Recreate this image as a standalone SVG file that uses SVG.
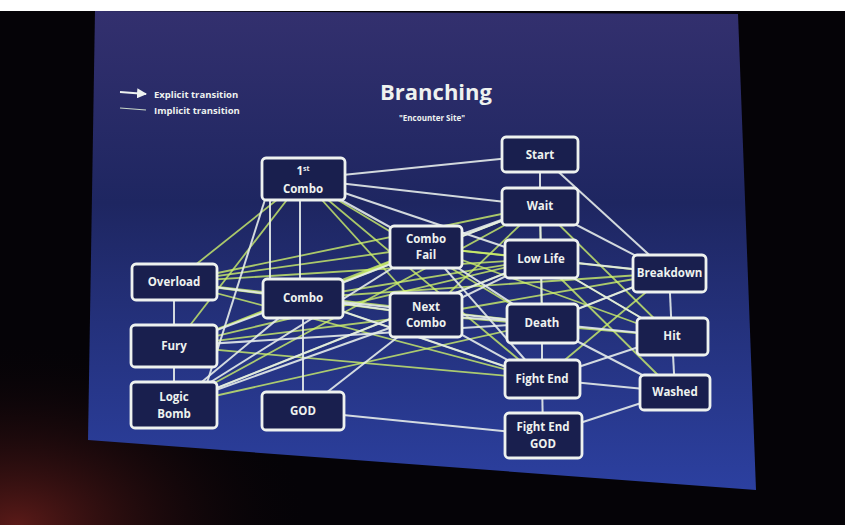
<svg xmlns="http://www.w3.org/2000/svg" width="845" height="525" viewBox="0 0 845 525">
<defs>
<linearGradient id="slide" x1="0" y1="0" x2="0" y2="1">
<stop offset="0" stop-color="#33306e"/>
<stop offset="0.4" stop-color="#1e2661"/>
<stop offset="1" stop-color="#2c40a0"/>
</linearGradient>
<radialGradient id="glow" cx="0.02" cy="1" r="0.35">
<stop offset="0" stop-color="#5a1a18"/>
<stop offset="1" stop-color="#050307" stop-opacity="0"/>
</radialGradient>
<marker id="arr" viewBox="0 0 10 10" refX="9" refY="5" markerWidth="5" markerHeight="5" orient="auto">
<path d="M0,0 L10,5 L0,10 z" fill="#eef2f0"/>
</marker>
</defs>
<style>
.ex{stroke:#e6ecea;stroke-width:2;fill:none;opacity:0.9}
.im{stroke:#cdf06a;stroke-width:1.8;fill:none;opacity:0.8}
.node rect{fill:#191f4e;stroke:#eef2ef;stroke-width:2.8}
.node text{fill:#eef2ef;font-family:"Open Sans","Liberation Sans",sans-serif;font-weight:bold;font-size:11.5px;text-anchor:middle}
.leg{fill:#eef2ef;font-family:"Open Sans","Liberation Sans",sans-serif;font-weight:bold;font-size:9.5px}
</style>
<rect width="845" height="525" fill="#050307"/>
<rect width="845" height="525" fill="url(#glow)"/>
<rect width="845" height="11" fill="#ffffff"/>
<polygon points="95,11 738,14 756,490 88,440" fill="url(#slide)"/>

<g id="legend">
<line x1="120" y1="92" x2="146" y2="94" stroke="#eef2ef" stroke-width="2" marker-end="url(#arr)"/>
<line x1="120" y1="108" x2="146" y2="110" stroke="#c9d8c8" stroke-width="1.2"/>
<text class="leg" x="154" y="98">Explicit transition</text>
<text class="leg" x="154" y="114">Implicit transition</text>
</g>
<g id="title">
<text x="436" y="100" fill="#eef2ef" font-family="'Open Sans','Liberation Sans',sans-serif" font-weight="bold" font-size="22" text-anchor="middle">Branching</text>
<text x="432" y="121" fill="#eef2ef" font-family="'Open Sans','Liberation Sans',sans-serif" font-weight="bold" font-size="8" text-anchor="middle">"Encounter Site"</text>
</g>

<g id="connectors">
<!-- implicit (green) -->
<line class="im" x1="174" y1="282" x2="426" y2="247"/>
<line class="im" x1="174" y1="282" x2="541" y2="259"/>
<line class="im" x1="174" y1="282" x2="540" y2="206"/>
<line class="im" x1="174" y1="282" x2="426" y2="315"/>
<line class="im" x1="174" y1="282" x2="542" y2="323"/>
<line class="im" x1="174" y1="282" x2="542" y2="379"/>
<line class="im" x1="174" y1="282" x2="303" y2="179"/>
<line class="im" x1="174" y1="346" x2="426" y2="247"/>
<line class="im" x1="174" y1="346" x2="541" y2="259"/>
<line class="im" x1="174" y1="346" x2="426" y2="315"/>
<line class="im" x1="174" y1="346" x2="540" y2="206"/>
<line class="im" x1="174" y1="346" x2="303" y2="179"/>
<line class="im" x1="174" y1="405" x2="540" y2="206"/>
<line class="im" x1="174" y1="405" x2="541" y2="259"/>
<line class="im" x1="174" y1="405" x2="542" y2="323"/>
<line class="im" x1="303" y1="298" x2="426" y2="247"/>
<line class="im" x1="303" y1="298" x2="541" y2="259"/>
<line class="im" x1="303" y1="298" x2="540" y2="206"/>
<line class="im" x1="303" y1="298" x2="669" y2="273"/>
<line class="im" x1="303" y1="179" x2="426" y2="315"/>
<line class="im" x1="303" y1="179" x2="542" y2="323"/>
<line class="im" x1="303" y1="179" x2="542" y2="379"/>
<line class="im" x1="426" y1="247" x2="541" y2="259"/>
<line class="im" x1="426" y1="247" x2="669" y2="273"/>
<line class="im" x1="426" y1="315" x2="669" y2="273"/>
<line class="im" x1="426" y1="315" x2="672" y2="336"/>
<line class="im" x1="426" y1="315" x2="540" y2="206"/>
<line class="im" x1="541" y1="259" x2="675" y2="392"/>
<line class="im" x1="542" y1="323" x2="669" y2="273"/>
<line class="im" x1="542" y1="379" x2="669" y2="273"/>
<line class="im" x1="540" y1="206" x2="542" y2="323"/>
<line class="im" x1="426" y1="247" x2="672" y2="336"/>
<line class="im" x1="541" y1="259" x2="672" y2="336"/>
<line class="im" x1="303" y1="298" x2="542" y2="379"/>
<line class="im" x1="174" y1="346" x2="542" y2="379"/>
<line class="im" x1="540" y1="206" x2="672" y2="336"/>
<!-- explicit (white) -->
<line class="ex" x1="303" y1="179" x2="540" y2="155"/>
<line class="ex" x1="303" y1="179" x2="540" y2="206"/>
<line class="ex" x1="303" y1="179" x2="426" y2="247"/>
<line class="ex" x1="303" y1="179" x2="541" y2="259"/>
<line class="ex" x1="270" y1="190" x2="270" y2="298"/>
<line class="ex" x1="300" y1="190" x2="300" y2="298"/>
<line class="ex" x1="268" y1="190" x2="200" y2="405"/>
<line class="ex" x1="540" y1="155" x2="540" y2="206"/>
<line class="ex" x1="540" y1="155" x2="669" y2="273"/>
<line class="ex" x1="540" y1="206" x2="669" y2="273"/>
<line class="ex" x1="540" y1="206" x2="541" y2="259"/>
<line class="ex" x1="540" y1="206" x2="426" y2="247"/>
<line class="ex" x1="540" y1="206" x2="303" y2="298"/>
<line class="ex" x1="174" y1="282" x2="303" y2="298"/>
<line class="ex" x1="174" y1="282" x2="174" y2="405"/>
<line class="ex" x1="174" y1="346" x2="303" y2="298"/>
<line class="ex" x1="174" y1="346" x2="542" y2="323"/>
<line class="ex" x1="174" y1="405" x2="303" y2="298"/>
<line class="ex" x1="174" y1="405" x2="426" y2="247"/>
<line class="ex" x1="174" y1="405" x2="426" y2="315"/>
<line class="ex" x1="174" y1="405" x2="541" y2="259"/>
<line class="ex" x1="303" y1="298" x2="303" y2="411"/>
<line class="ex" x1="303" y1="298" x2="426" y2="315"/>
<line class="ex" x1="303" y1="298" x2="542" y2="323"/>
<line class="ex" x1="303" y1="298" x2="542" y2="379"/>
<line class="ex" x1="303" y1="411" x2="543" y2="435"/>
<line class="ex" x1="303" y1="411" x2="426" y2="315"/>
<line class="ex" x1="426" y1="315" x2="542" y2="379"/>
<line class="ex" x1="426" y1="315" x2="541" y2="259"/>
<line class="ex" x1="426" y1="315" x2="542" y2="323"/>
<line class="ex" x1="426" y1="247" x2="542" y2="323"/>
<line class="ex" x1="426" y1="247" x2="542" y2="379"/>
<line class="ex" x1="541" y1="259" x2="542" y2="323"/>
<line class="ex" x1="541" y1="259" x2="669" y2="273"/>
<line class="ex" x1="541" y1="259" x2="672" y2="336"/>
<line class="ex" x1="542" y1="323" x2="672" y2="336"/>
<line class="ex" x1="542" y1="323" x2="675" y2="392"/>
<line class="ex" x1="542" y1="323" x2="542" y2="379"/>
<line class="ex" x1="542" y1="379" x2="543" y2="435"/>
<line class="ex" x1="542" y1="379" x2="675" y2="392"/>
<line class="ex" x1="542" y1="379" x2="672" y2="336"/>
<line class="ex" x1="543" y1="435" x2="675" y2="392"/>
<line class="ex" x1="669" y1="273" x2="672" y2="336"/>
<line class="ex" x1="672" y1="336" x2="675" y2="392"/>
<line class="ex" x1="669" y1="273" x2="542" y2="323"/>
</g>

<g id="n-1st-combo" class="node"><rect x="262" y="158" width="83" height="42" rx="4"/><text x="303" y="175">1<tspan font-size="7" dy="-4">st</tspan></text><text x="303" y="193">Combo</text></g>
<g id="n-start" class="node"><rect x="502" y="137" width="76" height="35" rx="4"/><text x="540" y="159">Start</text></g>
<g id="n-wait" class="node"><rect x="502" y="188" width="76" height="37" rx="4"/><text x="540" y="210">Wait</text></g>
<g id="n-combo-fail" class="node"><rect x="390" y="226" width="72" height="42" rx="4"/><text x="426" y="243">Combo</text><text x="426" y="259">Fail</text></g>
<g id="n-low-life" class="node"><rect x="505" y="240" width="73" height="38" rx="4"/><text x="541" y="263">Low Life</text></g>
<g id="n-overload" class="node"><rect x="132" y="264" width="85" height="36" rx="4"/><text x="174" y="286">Overload</text></g>
<g id="n-combo" class="node"><rect x="263" y="279" width="80" height="39" rx="4"/><text x="303" y="302">Combo</text></g>
<g id="n-next-combo" class="node"><rect x="390" y="293" width="72" height="44" rx="4"/><text x="426" y="311">Next</text><text x="426" y="327">Combo</text></g>
<g id="n-death" class="node"><rect x="507" y="304" width="71" height="39" rx="4"/><text x="542" y="327">Death</text></g>
<g id="n-breakdown" class="node"><rect x="633" y="255" width="73" height="37" rx="4"/><text x="669.5" y="277" font-size="10">Breakdown</text></g>
<g id="n-hit" class="node"><rect x="637" y="318" width="71" height="37" rx="4"/><text x="672" y="340">Hit</text></g>
<g id="n-fury" class="node"><rect x="131" y="325" width="86" height="42" rx="4"/><text x="174" y="350">Fury</text></g>
<g id="n-fight-end" class="node"><rect x="505" y="360" width="75" height="38" rx="4"/><text x="542" y="383">Fight End</text></g>
<g id="n-washed" class="node"><rect x="640" y="375" width="70" height="35" rx="4"/><text x="675" y="396">Washed</text></g>
<g id="n-logic-bomb" class="node"><rect x="131" y="382" width="86" height="46" rx="4"/><text x="174" y="401">Logic</text><text x="174" y="418">Bomb</text></g>
<g id="n-god" class="node"><rect x="262" y="392" width="82" height="38" rx="4"/><text x="303" y="415">GOD</text></g>
<g id="n-fight-end-god" class="node"><rect x="505" y="413" width="77" height="45" rx="4"/><text x="543" y="431">Fight End</text><text x="543" y="448">GOD</text></g>
</svg>
